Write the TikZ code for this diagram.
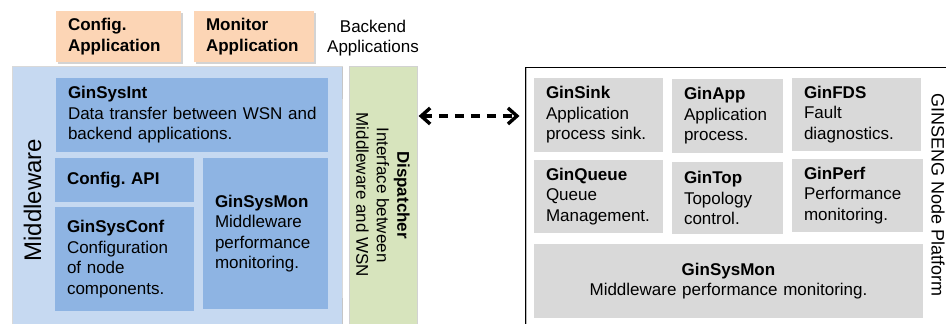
\documentclass[tikz,border=0pt]{standalone}
\usepackage{fontspec}
\setmainfont{Liberation Sans}
\usetikzlibrary{arrows.meta,shadows}

\definecolor{appfill}{HTML}{FCD5B5}
\definecolor{mwouter}{HTML}{C6D9F1}
\definecolor{mwinner}{HTML}{8EB4E3}
\definecolor{dispfill}{HTML}{D7E4BD}
\definecolor{nodefill}{HTML}{D9D9D9}

\tikzset{
  txt/.style={font=\fontsize{17}{20.5}\selectfont},
  blk/.style={txt, rectangle, inner xsep=12pt, inner ysep=0pt, align=left, draw=none},
  appbox/.style={blk, fill=appfill, drop shadow={shadow xshift=1.5pt, shadow yshift=-1.5pt, opacity=0.35}},
  mwbox/.style={blk, fill=mwinner},
  ginbox/.style={blk, fill=nodefill},
  link/.style={line width=3.4pt, dash pattern=on 9pt off 7pt,
    {Straight Barb[length=9pt,width=16pt]}-{Straight Barb[length=9pt,width=16pt]}}
}

\begin{document}
\frenchspacing
\begin{tikzpicture}[x=1pt,y=-1pt]
\useasboundingbox (0,0) rectangle (946,324);

% backend applications
\node[appbox, text width=101pt, minimum height=51pt] (cfgapp) at (118.5,36.5)
  {\textbf{Config.}\\\textbf{Application}};
\node[appbox, text width=96pt, minimum height=51pt] (monapp) at (254,36.5)
  {\textbf{Monitor}\\\textbf{Application}};
\node[txt, align=center, inner sep=0pt] (backend) at (373,38) {Backend\\Applications};

% middleware layer
\node[rectangle, fill=mwouter, draw=gray!30, line width=0.6pt, anchor=north west,
      minimum width=330pt, minimum height=270pt, inner sep=0pt] (mw) at (12,66) {};
\draw[gray!45, line width=1pt] (342.5,67) -- (342.5,99);
\draw[gray!45, line width=1pt] (342.5,298) -- (342.5,324);
\node[font=\fontsize{24}{28}\selectfont, rotate=90, inner sep=0pt] (mwlabel) at (32.5,200) {Middleware};

\node[mwbox, text width=248pt, minimum height=74pt] (sysint) at (192,115)
  {\textbf{GinSysInt}\\\mbox{Data transfer between WSN and}\\backend applications.};
\node[mwbox, text width=115pt, minimum height=44pt] (cfgapi) at (124.5,180)
  {\textbf{Config. API}};
\node[mwbox, text width=115pt, minimum height=104pt] (sysconf) at (124.5,259)
  {\textbf{GinSysConf}\\Configuration\\of node\\components.};
\node[mwbox, text width=101pt, minimum height=151pt] (sysmonl) at (265.5,233.5)
  {\textbf{GinSysMon}\\Middleware\\performance\\monitoring.};

% dispatcher
\node[rectangle, fill=dispfill, draw=gray!35, line width=0.6pt, anchor=north west,
      minimum width=68pt, minimum height=270pt, inner sep=0pt] (disp) at (349,66) {};
\node[txt, rotate=-90, align=center, inner sep=0pt] (disptext) at (383,195)
  {\textbf{Dispatcher}\\Interface between\\Middleware and WSN};

% node platform
\node[rectangle, draw=black, line width=1.2pt, anchor=north west,
      minimum width=440pt, minimum height=280pt, inner sep=0pt] (plat) at (524.5,67) {};
\draw[gray!55, line width=0.8pt] (526.3,68) -- (526.3,324);
\node[font=\fontsize{18}{21}\selectfont, rotate=-90, inner sep=0pt] (platlabel) at (938,195)
  {GINSENG Node Platform};

\node[ginbox, text width=105pt, minimum height=74pt] (sink) at (598.5,115)
  {\textbf{GinSink}\\Application\\process sink.};
\node[ginbox, text width=87pt, minimum height=74pt] (app) at (727.5,116)
  {\textbf{GinApp}\\Application\\process.};
\node[ginbox, text width=105pt, minimum height=73pt] (fds) at (856.5,114.5)
  {\textbf{GinFDS}\\Fault\\diagnostics.};
\node[ginbox, text width=105pt, minimum height=73pt] (queue) at (598.5,196.5)
  {\textbf{GinQueue}\\Queue\\Management.};
\node[ginbox, text width=87pt, minimum height=72pt] (top) at (727.5,198)
  {\textbf{GinTop}\\Topology\\control.};
\node[ginbox, text width=107pt, minimum height=73pt] (perf) at (857.5,195.5)
  {\textbf{GinPerf}\\Performance\\monitoring.};
\node[ginbox, align=center, text width=365pt, minimum height=74pt] (sysmonr) at (728.5,281)
  {\textbf{GinSysMon}\\Middleware performance monitoring.};

% dispatcher <-> node platform
\draw[link, shorten <=1pt, shorten >=5pt] (disp.east |- 0,116) -- (plat.west |- 0,116);
\end{tikzpicture}
\end{document}
